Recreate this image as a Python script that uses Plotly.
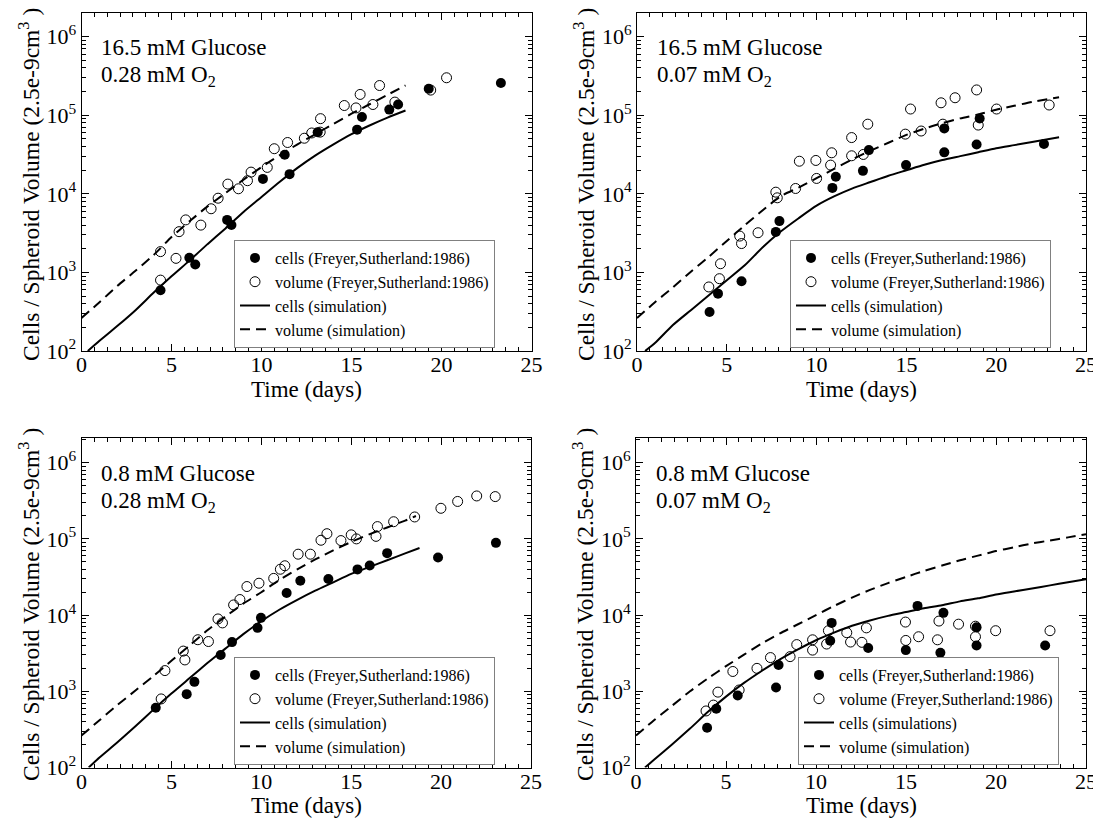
import plotly.graph_objects as go

# ---------------- data ----------------
# Panel A: 16.5 mM Glucose, 0.28 mM O2
a_cells_t = [4.39, 5.99, 6.32, 8.09, 8.33, 10.08, 11.29, 11.56, 13.12, 15.31, 15.58, 17.1, 17.59, 19.29, 23.3]
a_cells_v = [594, 1540, 1260, 4660, 4020, 15500, 31500, 17800, 60700, 65600, 95000, 118000, 137000, 217000, 257000]
a_vol_t = [4.39, 4.39, 5.25, 5.42, 5.79, 6.63, 7.2, 7.59, 8.13, 8.72, 9.22, 9.42, 10.32, 10.71, 11.45, 12.38,
           12.79, 13.26, 13.28, 14.6, 15.25, 15.48, 16.19, 16.56, 17.41, 19.4, 20.28]
a_vol_v = [798, 1840, 1510, 3300, 4660, 4000, 6460, 8800, 13300, 11600, 14700, 18900, 21700, 37500, 45000, 51000,
           59500, 61000, 90500, 133000, 124000, 184000, 137000, 239000, 147000, 209000, 300000]
a_sim_t = [0.35, 1, 2, 3, 4, 5, 6, 7, 8, 9, 10, 11, 12, 13, 14, 15, 16, 17, 18]
a_sim_cells = [100, 135, 209, 331, 550, 891, 1413, 2291, 3631, 5888, 9120, 14125, 21380, 30900, 42660, 57540,
               74130, 93330, 114800]
a_simv_t = [0, 1, 2, 3, 4, 5, 6, 7, 8, 9, 10, 11, 12, 13, 14, 15, 16, 17, 18]
a_sim_vol = [263, 417, 676, 1047, 1660, 2818, 4467, 6918, 10230, 15140, 21880, 30900, 42660, 57540, 77620,
             104700, 138000, 182000, 240000]

# Panel B: 16.5 mM Glucose, 0.07 mM O2
b_cells_t = [4.04, 4.51, 5.82, 7.73, 7.93, 10.88, 11.07, 12.58, 12.91, 14.98, 17.11, 17.11, 18.91, 19.08, 22.66]
b_cells_v = [314, 537, 771, 3280, 4500, 11900, 16500, 19600, 36000, 23200, 33700, 68000, 42500, 91000, 43000]
b_vol_t = [4.0, 4.59, 4.65, 5.72, 5.82, 6.74, 7.73, 7.81, 8.83, 9.04, 9.96, 10.0, 10.78, 10.84, 11.95, 11.95,
           12.6, 12.85, 14.94, 15.23, 15.82, 16.93, 17.03, 17.71, 18.91, 19.0, 20.02, 22.95]
b_vol_v = [653, 832, 1290, 2900, 2330, 3200, 10500, 8900, 11700, 26000, 26600, 15700, 23200, 33300, 52000, 30500,
           31700, 77000, 57500, 120000, 63000, 144000, 77000, 167000, 210000, 75000, 120000, 135000]
b_sim_t = [0.45, 1, 2, 3, 4, 5, 6, 7, 8, 9, 10, 11, 12, 13, 14, 15, 16, 17, 18, 19, 20, 21, 22, 23.5]
b_sim_cells = [100, 126, 214, 331, 513, 794, 1230, 2089, 3311, 4898, 7079, 9333, 11750, 14130, 16980, 19950,
               23440, 26920, 30200, 33880, 38020, 41690, 45710, 52480]
b_simv_t = [0, 1, 2, 3, 4, 5, 6, 7, 8, 9, 10, 11, 12, 13, 14, 15, 16, 17, 18, 19, 20, 21, 22, 23.5]
b_sim_vol = [263, 417, 646, 1023, 1585, 2512, 3981, 6166, 9333, 12020, 15850, 20890, 27540, 35480, 44670, 56230,
             67610, 79430, 91200, 102300, 117500, 131800, 147900, 169800]

# Panel C: 0.8 mM Glucose, 0.28 mM O2
c_cells_t = [4.13, 5.85, 6.28, 7.74, 8.37, 9.79, 9.98, 11.41, 12.17, 13.73, 15.35, 16.03, 17.0, 19.83, 23.05]
c_cells_v = [609, 918, 1330, 2990, 4420, 6800, 9200, 19500, 28300, 29700, 39800, 44800, 65000, 57000, 88700]
c_vol_t = [4.43, 4.64, 5.66, 5.75, 6.47, 7.06, 7.59, 7.84, 8.46, 8.81, 9.2, 9.87, 10.69, 11.06, 11.31, 12.05,
           12.73, 13.32, 13.65, 14.43, 15.0, 15.29, 16.38, 16.46, 17.36, 18.53, 19.99, 20.92, 21.98, 23.01]
c_vol_v = [794, 1870, 3370, 2580, 4750, 4500, 8900, 7900, 13600, 16000, 23700, 26200, 30300, 40000, 44400, 63000,
           63000, 96000, 117000, 95000, 113000, 100000, 108000, 145000, 168000, 194000, 252000, 310000, 366000,
           359000]
c_sim_t = [0.4, 1, 2, 3, 4, 5, 6, 7, 8, 9, 10, 11, 12, 13, 14, 15, 16, 17, 18, 18.8]
c_sim_cells = [100, 135, 214, 347, 575, 933, 1479, 2344, 3631, 5623, 8318, 11750, 15850, 20890, 26920, 34670,
               42660, 52480, 64570, 75860]
c_simv_t = [0, 1, 2, 3, 4, 5, 6, 7, 8, 9, 10, 11, 12, 13, 14, 15, 16, 17, 18, 18.6]
c_sim_vol = [263, 417, 661, 1023, 1585, 2512, 3981, 6310, 9550, 14130, 19950, 28840, 39810, 53700, 70790, 91200,
             114800, 141300, 173800, 199500]

# Panel D: 0.8 mM Glucose, 0.07 mM O2
d_cells_t = [3.95, 4.46, 5.65, 7.78, 7.92, 10.79, 10.87, 12.9, 14.99, 15.64, 16.91, 17.08, 18.92, 18.92, 22.73]
d_cells_v = [333, 591, 883, 1120, 2210, 4600, 7900, 3700, 3470, 13200, 3200, 10700, 6900, 3980, 3980]
d_vol_t = [3.89, 4.3, 4.55, 5.38, 5.73, 6.72, 7.47, 8.56, 8.93, 9.81, 9.81, 10.59, 10.69, 11.71, 11.92, 12.55,
           12.8, 14.97, 14.99, 15.7, 16.75, 16.83, 17.92, 18.86, 18.86, 19.98, 23.0]
d_vol_v = [552, 659, 975, 1820, 1040, 2000, 2770, 2850, 4100, 4740, 3470, 4170, 6240, 5880, 4430, 4390, 6800,
           8100, 4650, 5200, 4740, 8350, 7600, 7150, 5200, 6240, 6240]
d_sim_t = [0.5, 1, 2, 3, 4, 5, 6, 7, 8, 9, 10, 11, 12, 13, 14, 15, 16, 17, 18, 19, 20, 21, 22, 23, 24, 25]
d_sim_cells = [100, 126, 200, 324, 537, 851, 1288, 1862, 2630, 3548, 4677, 5888, 7244, 8511, 9772, 10960, 12300,
               13490, 15140, 16600, 18620, 20420, 22390, 24550, 26920, 29510]
d_simv_t = [0, 1, 2, 3, 4, 5, 6, 7, 8, 9, 10, 11, 12, 13, 14, 15, 16, 17, 18, 19, 20, 21, 22, 23, 24, 25]
d_sim_vol = [263, 417, 646, 1000, 1479, 2138, 3020, 4266, 5754, 7586, 10000, 13180, 16980, 21380, 26300, 31620,
             38020, 44670, 52480, 60260, 69180, 77620, 87100, 95500, 104700, 114800]

glucose_labels = ["16.5 mM Glucose", "16.5 mM Glucose", "0.8 mM Glucose", "0.8 mM Glucose"]
oxygen_labels = ["0.28 mM O<sub>2</sub>", "0.07 mM O<sub>2</sub>", "0.28 mM O<sub>2</sub>", "0.07 mM O<sub>2</sub>"]
cells_sim_names = ["cells (simulation)", "cells (simulation)", "cells (simulation)", "cells (simulations)"]
x_tick_vals = [0, 5, 10, 15, 20, 25]
y_tick_vals = [1e2, 1e3, 1e4, 1e5, 1e6]
y_tick_text = ["10<sup>2</sup>", "10<sup>3</sup>", "10<sup>4</sup>", "10<sup>5</sup>", "10<sup>6</sup>"]
y_minor_vals = [m * 10 ** k for k in range(2, 7) for m in range(2, 10)]
x_title = "Time (days)"
y_title = "Cells / Spheroid Volume (2.5e-9cm<sup>3</sup> )"
data_name_cells = "cells (Freyer,Sutherland:1986)"
data_name_vol = "volume (Freyer,Sutherland:1986)"
vol_sim_name = "volume (simulation)"

# ---------------- layout geometry (screen pixels; page body has an 8px margin) ----------------
OFF = 8
W, H = 1101 - OFF, 827 - OFF
FONT = "Liberation Serif"


def fx(p):
    return (p - OFF) / W


def fy(p):
    return 1 - (p - OFF) / H


panels = [
    dict(data=(a_cells_t, a_cells_v, a_vol_t, a_vol_v, a_sim_t, a_sim_cells, a_simv_t, a_sim_vol),
         px_x=(81.5, 531.5), px_y=(12.7, 351.0), yr=(2, 6.305), leg=(234, 240), txt=(99, 47, 76),
         ytitle=(29, 185), xtitle=389),
    dict(data=(b_cells_t, b_cells_v, b_vol_t, b_vol_v, b_sim_t, b_sim_cells, b_simv_t, b_sim_vol),
         px_x=(637.0, 1086.0), px_y=(12.7, 351.0), yr=(2, 6.305), leg=(790, 240), txt=(655, 47, 76),
         ytitle=(584, 185), xtitle=389),
    dict(data=(c_cells_t, c_cells_v, c_vol_t, c_vol_v, c_sim_t, c_sim_cells, c_simv_t, c_sim_vol),
         px_x=(81.5, 531.0), px_y=(438.0, 767.5), yr=(2, 6.324), leg=(234, 657), txt=(99, 473, 502),
         ytitle=(29, 605), xtitle=805),
    dict(data=(d_cells_t, d_cells_v, d_vol_t, d_vol_v, d_sim_t, d_sim_cells, d_simv_t, d_sim_vol),
         px_x=(636.0, 1086.0), px_y=(438.0, 767.5), yr=(2, 6.324), leg=(798, 657), txt=(654, 473, 502),
         ytitle=(583, 605), xtitle=805),
]

fig = go.Figure()
annotations = []
layout = dict(
    width=W, height=H, autosize=False,
    margin=dict(l=0, r=0, t=0, b=0, pad=0, autoexpand=False),
    paper_bgcolor="white", plot_bgcolor="white",
    font=dict(family=FONT, color="black", size=22),
)

for i, p in enumerate(panels):
    n = "" if i == 0 else str(i + 1)
    xa, ya = "x" + n, "y" + n
    leg = "legend" + n
    ct, cv, vt, vv, st, sc, svt, sv = p["data"]
    # simulation lines first (drawn below markers)
    fig.add_trace(go.Scatter(x=st, y=sc, mode="lines", name=cells_sim_names[i],
                             line=dict(color="black", width=2, shape="spline", smoothing=0.6),
                             xaxis=xa, yaxis=ya, legend=leg, legendrank=3))
    fig.add_trace(go.Scatter(x=svt, y=sv, mode="lines", name=vol_sim_name,
                             line=dict(color="black", width=2, dash="10px,6px", shape="spline", smoothing=0.6),
                             xaxis=xa, yaxis=ya, legend=leg, legendrank=4))
    fig.add_trace(go.Scatter(x=ct, y=cv, mode="markers", name=data_name_cells,
                             marker=dict(symbol="circle", size=10, color="black"),
                             xaxis=xa, yaxis=ya, legend=leg, legendrank=1))
    fig.add_trace(go.Scatter(x=vt, y=vv, mode="markers", name=data_name_vol,
                             marker=dict(symbol="circle-open", size=10, color="black",
                                         line=dict(color="black", width=1)),
                             xaxis=xa, yaxis=ya, legend=leg, legendrank=2))

    x0, x1 = p["px_x"]
    y0, y1 = p["px_y"]
    axis_common = dict(showline=True, linecolor="black", linewidth=1, mirror="ticks",
                       ticks="inside", ticklen=7, tickwidth=1, tickcolor="black",
                       showgrid=False, zeroline=False, automargin=False,
                       tickfont=dict(family=FONT, size=22, color="black"))
    layout["xaxis" + n] = dict(axis_common, domain=[fx(x0), fx(x1)], range=[0, 25],
                               tickvals=x_tick_vals, anchor=ya, ticklabelstandoff=-6,
                               minor=dict(ticks="inside", ticklen=4, tickcolor="black",
                                          tickwidth=1, dtick=5 / 7, tick0=0, showgrid=False))
    layout["yaxis" + n] = dict(axis_common, domain=[fy(y1), fy(y0)], type="log",
                               range=list(p["yr"]), tickvals=y_tick_vals, ticktext=y_tick_text,
                               anchor=xa,
                               minor=dict(ticks="inside", ticklen=4, tickcolor="black", tickwidth=1,
                                          tickmode="array", tickvals=y_minor_vals, showgrid=False))
    lx, ly = p["leg"]
    layout[leg] = dict(x=fx(lx), y=fy(ly), xanchor="left", yanchor="top",
                       xref="paper", yref="paper",
                       bgcolor="white", bordercolor="#808080", borderwidth=1,
                       font=dict(family=FONT, size=16, color="black"),
                       itemwidth=30, tracegroupgap=0)
    tx, ty1, ty2 = p["txt"]
    annotations.append(dict(text=glucose_labels[i], x=fx(tx), y=fy(ty1), xref="paper", yref="paper",
                            xanchor="left", yanchor="middle", showarrow=False,
                            font=dict(family=FONT, size=23, color="black")))
    annotations.append(dict(text=oxygen_labels[i], x=fx(tx), y=fy(ty2), xref="paper", yref="paper",
                            xanchor="left", yanchor="middle", showarrow=False,
                            font=dict(family=FONT, size=23, color="black")))
    yx, yy = p["ytitle"]
    annotations.append(dict(text=y_title, x=fx(yx), y=fy(yy), xref="paper", yref="paper",
                            xanchor="center", yanchor="middle", textangle=-90, showarrow=False,
                            font=dict(family=FONT, size=23.5, color="black")))
    annotations.append(dict(text=x_title, x=fx((x0 + x1) / 2), y=fy(p["xtitle"]),
                            xref="paper", yref="paper", xanchor="center", yanchor="middle",
                            showarrow=False, font=dict(family=FONT, size=23, color="black")))

layout["annotations"] = annotations
fig.update_layout(**layout)
fig.write_html("out.html")
